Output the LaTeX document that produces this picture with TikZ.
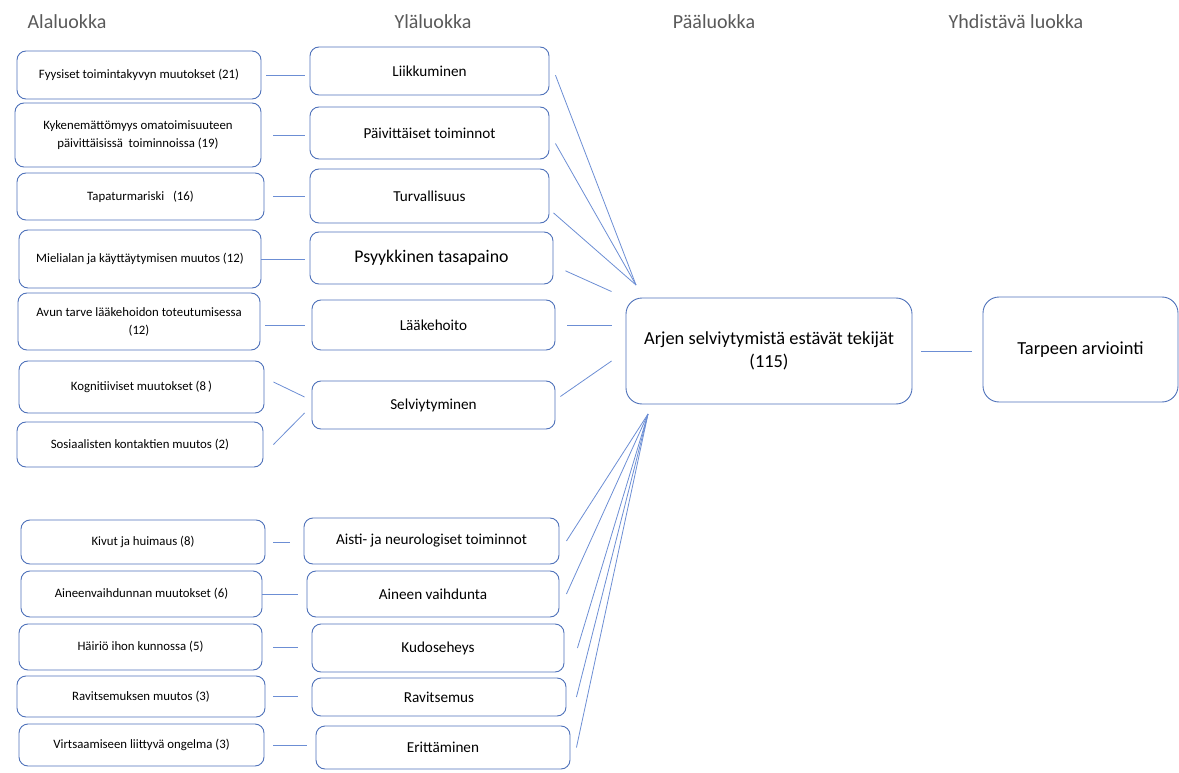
\documentclass[tikz,border=0pt]{standalone}
\usepackage{fontspec}
\setmainfont{Carlito}
\definecolor{B1}{RGB}{79,114,186}
\definecolor{B2}{RGB}{108,142,212}
\definecolor{G1}{RGB}{89,89,89}

\begin{document}
\begin{tikzpicture}[x=1pt,y=-1pt,
  ala/.style={draw=B1, line width=0.9pt, rounded corners=9pt, align=center, inner sep=0pt, font=\fontsize{12.8}{18}\selectfont},
  yla/.style={ala, font=\fontsize{15.2}{18}\selectfont},
  paa/.style={ala, rounded corners=16pt, font=\fontsize{18.4}{23}\selectfont},
  otsikko/.style={text=G1, font=\fontsize{20}{24}\selectfont},
  yhd/.style={draw=B2, line width=0.8pt}]
          \useasboundingbox (0,0) rectangle (1179,773);
          \node[otsikko] (h1) at (67,22) {Alaluokka};
          \node[otsikko] (h2) at (433,22) {Yläluokka};
          \node[otsikko] (h3) at (714,22) {Pääluokka};
          \node[otsikko] (h4) at (1016,22) {Yhdistävä luokka};

          \node[ala, minimum width=244pt, minimum height=48pt] (fyy) at (139,75) {Fyysiset toimintakyvyn muutokset (21)};
          \node[ala, minimum width=246pt, minimum height=64pt] (kyk) at (138,135) {Kykenemättömyys omatoimisuuteen\\päivittäisissä\ \ toiminnoissa (19)};
          \node[ala, minimum width=247pt, minimum height=47pt] (tapa) at (140.5,196.5) {Tapaturmariski\ \ \ (16)};
          \node[ala, minimum width=242pt, minimum height=58pt] (miel) at (140,259) {Mielialan ja käyttäytymisen muutos (12)};
          \node[ala, minimum width=242pt, minimum height=57pt] (avun) at (139,321.5) {Avun tarve lääkehoidon toteutumisessa\\(12)};
          \node[ala, minimum width=245pt, minimum height=52pt] (kog) at (141.5,387) {Kognitiiviset muutokset (8\,)};
          \node[ala, minimum width=246pt, minimum height=45pt] (sos) at (140,444.5) {Sosiaalisten kontaktien muutos (2)};
          \node[ala, minimum width=244pt, minimum height=44pt] (kiv) at (143,542) {Kivut ja huimaus (8)};
          \node[ala, minimum width=241pt, minimum height=46pt] (aiv) at (141.5,594) {Aineenvaihdunnan muutokset (6)};
          \node[ala, minimum width=243pt, minimum height=46pt] (hai) at (140.5,647) {Häiriö ihon kunnossa (5)};
          \node[ala, minimum width=248pt, minimum height=41pt] (rav) at (141,696.5) {Ravitsemuksen muutos (3)};
          \node[ala, minimum width=245pt, minimum height=42pt] (vir) at (141.5,745) {Virtsaamiseen liittyvä ongelma (3)};

          \node[yla, minimum width=239pt, minimum height=48pt] (liik) at (429.5,71) {Liikkuminen};
          \node[yla, minimum width=239pt, minimum height=52pt] (paiv) at (429.5,133) {Päivittäiset toiminnot};
          \node[yla, minimum width=239pt, minimum height=54pt] (turv) at (429.5,196) {Turvallisuus};
          \node[yla, minimum width=243pt, minimum height=52pt, font=\fontsize{17.8}{20}\selectfont] (psy) at (431.5,258) {Psyykkinen tasapaino};
          \node[yla, minimum width=243pt, minimum height=50pt] (laak) at (433.5,325) {Lääkehoito};
          \node[yla, minimum width=243pt, minimum height=48pt] (selv) at (433.5,405) {Selviytyminen};
          \node[yla, minimum width=255pt, minimum height=46pt] (aisti) at (431.5,541) {Aisti- ja neurologiset toiminnot};
          \node[yla, minimum width=252pt, minimum height=46pt] (aine) at (433,594) {Aineen vaihdunta};
          \node[yla, minimum width=252pt, minimum height=48pt] (kudos) at (438,648) {Kudoseheys};
          \node[yla, minimum width=254pt, minimum height=38pt] (ravi) at (439,697) {Ravitsemus};
          \node[yla, minimum width=254pt, minimum height=43pt] (erit) at (443,747.5) {Erittäminen};

          \node[paa, minimum width=286pt, minimum height=106pt] (arki) at (769,351) {Arjen selviytymistä estävät tekijät\\(115)};
          \node[paa, minimum width=195pt, minimum height=105pt] (tarve) at (1080.5,349.5) {Tarpeen arviointi};

          \coordinate (ylakeskus) at (636,285);
          \coordinate (alakeskus) at (648,414);

          \draw[yhd] ([xshift=5pt]fyy.east) -- ([xshift=-5pt]fyy.east -| liik.west);
          \draw[yhd] ([xshift=12pt]kyk.east) -- ([xshift=-5pt]kyk.east -| paiv.west);
          \draw[yhd] ([xshift=9pt]tapa.east) -- ([xshift=-5pt]tapa.east -| turv.west);
          \draw[yhd] (miel.east) -- ([xshift=-5pt]miel.east -| psy.west);
          \draw[yhd] ([xshift=5pt]avun.east |- laak.west) -- ([xshift=-7pt]laak.west);
          \draw[yhd] ([xshift=9pt,yshift=5pt]kog.east) -- ([xshift=-7pt,yshift=8pt]selv.west);
          \draw[yhd] ([xshift=10pt]sos.east) -- ([xshift=-7pt,yshift=-8pt]selv.west);
          \draw[yhd] ([xshift=8pt]kiv.east) -- ([xshift=-14pt]kiv.east -| aisti.west);
          \draw[yhd] (aiv.east) -- ([xshift=-9pt]aiv.east -| aine.west);
          \draw[yhd] ([xshift=11pt]hai.east) -- ([xshift=-14pt]hai.east -| kudos.west);
          \draw[yhd] ([xshift=8pt]rav.east) -- ([xshift=-14pt]rav.east -| ravi.west);
          \draw[yhd] ([xshift=9pt]vir.east) -- ([xshift=-9pt]vir.east -| erit.west);

          \draw[yhd] ([xshift=6pt]liik.-2) -- (ylakeskus);
          \draw[yhd] ([xshift=6pt]paiv.-5) -- (ylakeskus);
          \draw[yhd] ([xshift=4pt]turv.-8) -- (ylakeskus);
          \draw[yhd] ([xshift=12pt]psy.-6) -- ([xshift=-14pt,yshift=6pt]arki.north west);
          \draw[yhd] ([xshift=12pt]laak.east) -- ([xshift=-14pt]laak.east -| arki.west);
          \draw[yhd] ([xshift=5pt]selv.4) -- ([xshift=-14pt,yshift=-10pt]arki.west);
          \draw[yhd] ([xshift=7pt]aisti.east) -- (alakeskus);
          \draw[yhd] ([xshift=7pt]aine.east) -- (alakeskus);
          \draw[yhd] ([xshift=13pt]kudos.east) -- (alakeskus);
          \draw[yhd] ([xshift=10pt]ravi.east) -- (alakeskus);
          \draw[yhd] ([xshift=6pt]erit.east) -- (alakeskus);

          \draw[yhd] ([xshift=9pt]arki.east) -- ([xshift=-11pt]arki.east -| tarve.west);
        \end{tikzpicture}
\end{document}
